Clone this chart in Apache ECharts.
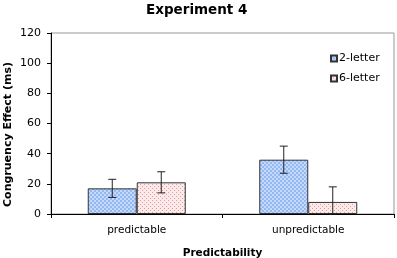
<!DOCTYPE html>
<html>
<head>
<meta charset="utf-8">
<script src="https://cdn.jsdelivr.net/npm/echarts@6/dist/echarts.min.js"></script>
<style>
  html, body { margin: 0; padding: 0; background: #fff; }
  #chart { width: 397px; height: 258px; }
</style>
</head>
<body>
<div id="chart"></div>
<script>
// data
var categories = ['predictable', 'unpredictable'];
var seriesNames = ['2-letter', '6-letter'];
var twoLetter = [17, 36];
var twoLetterErr = [6, 9];
var sixLetter = [21, 8];
var sixLetterErr = [7, 10];
var yTicks = [0, 20, 40, 60, 80, 100, 120];

// small tiled fills to imitate the Excel patterns
function makePattern(bg, fg, dots) {
  var c = document.createElement('canvas');
  c.width = 4; c.height = 4;
  var ctx = c.getContext('2d');
  ctx.fillStyle = bg;
  ctx.fillRect(0, 0, 4, 4);
  ctx.fillStyle = fg;
  if (dots) {
    ctx.fillRect(0, 0, 1, 1);
    ctx.fillRect(2, 2, 1, 1);
  } else {
    ctx.fillRect(0, 0, 2, 2);
    ctx.fillRect(2, 2, 2, 2);
  }
  return { image: c, repeat: 'repeat' };
}
var bluePattern = makePattern('#c4d9fb', '#94b8f2', false);
var pinkPattern = makePattern('#fbeaea', '#e29a9a', true);

var BAR_W = 49;

function errorSeries(values, errs, side) {
  return {
    type: 'custom',
    silent: true,
    z: 10,
    data: values.map(function (v, i) { return [i, v, errs[i]]; }),
    renderItem: function (params, api) {
      var i = api.value(0), v = api.value(1), e = api.value(2);
      var top = api.coord([i, v + e]);
      var bot = api.coord([i, Math.max(0, v - e)]);
      var x = top[0] + side * BAR_W / 2;
      var cap = 4;
      var st = { stroke: '#222', lineWidth: 1 };
      return {
        type: 'group',
        children: [
          { type: 'line', shape: { x1: x, y1: top[1], x2: x, y2: bot[1] }, style: st },
          { type: 'line', shape: { x1: x - cap, y1: top[1], x2: x + cap, y2: top[1] }, style: st },
          { type: 'line', shape: { x1: x - cap, y1: bot[1], x2: x + cap, y2: bot[1] }, style: st }
        ]
      };
    }
  };
}

var chart = echarts.init(document.getElementById('chart'), null, { renderer: 'canvas' });

chart.setOption({
  animation: false,
  textStyle: { fontFamily: 'DejaVu Sans' },
  title: {
    text: 'Experiment 4',
    left: 146,
    top: 3,
    padding: 0,
    textStyle: { fontSize: 13.5, fontWeight: 'bold', color: '#000', fontFamily: 'DejaVu Sans' }
  },
  legend: {
    data: seriesNames,
    orient: 'vertical',
    left: 325,
    top: 48,
    itemWidth: 6,
    itemHeight: 6,
    itemGap: 9,
    icon: 'rect',
    textStyle: { fontSize: 11, color: '#000', padding: [0, 0, 0, -3] }
  },
  grid: {
    left: 51, right: 3, top: 33, bottom: 44,
    outerBoundsMode: 'none',
    containLabel: false,
    show: true, borderColor: '#999', borderWidth: 1
  },
  xAxis: {
    type: 'category',
    data: categories,
    name: 'Predictability',
    nameLocation: 'middle',
    nameGap: 34,
    nameMoveOverlap: false,
    nameTextStyle: { fontSize: 10.5, fontWeight: 'bold', color: '#000' },
    axisLine: { lineStyle: { color: '#000' } },
    axisTick: { show: true, length: 4, lineStyle: { color: '#000' } },
    axisLabel: { fontSize: 10.5, color: '#000', margin: 11 },
    splitLine: { show: false }
  },
  yAxis: {
    type: 'value',
    min: yTicks[0],
    max: yTicks[yTicks.length - 1],
    interval: 20,
    name: 'Congruency Effect (ms)',
    nameLocation: 'middle',
    nameGap: 37,
    nameMoveOverlap: false,
    nameTextStyle: { fontSize: 11, fontWeight: 'bold', color: '#000', padding: [0, 22, 0, 0] },
    axisLine: { show: true, lineStyle: { color: '#000' } },
    axisTick: { show: true, length: 4, lineStyle: { color: '#000' } },
    axisLabel: { fontSize: 11, color: '#000', margin: 10 },
    splitLine: { show: false }
  },
  series: [
    {
      name: seriesNames[0],
      type: 'bar',
      data: twoLetter,
      barWidth: BAR_W,
      barGap: '0%',
      itemStyle: { color: bluePattern, borderColor: '#333', borderWidth: 1 }
    },
    {
      name: seriesNames[1],
      type: 'bar',
      data: sixLetter,
      barWidth: BAR_W,
      barGap: '0%',
      itemStyle: { color: pinkPattern, borderColor: '#333', borderWidth: 1 }
    },
    errorSeries(twoLetter, twoLetterErr, -1),
    errorSeries(sixLetter, sixLetterErr, 1)
  ]
});
</script>
</body>
</html>
